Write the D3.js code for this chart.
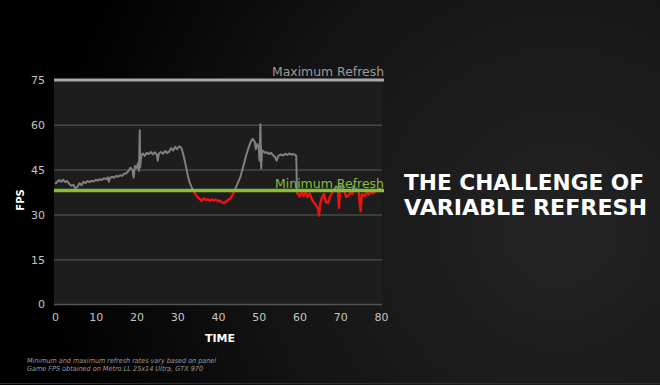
<!DOCTYPE html>
<html><head><meta charset="utf-8">
<script src="https://cdn.jsdelivr.net/npm/d3@7"></script>
<style>html,body{margin:0;padding:0;background:#000;}svg{display:block;}</style>
</head><body>
<script>
const time = [0,0.5,1,1.5,2,2.5,3,3.5,4,4.5,5,5.5,6,6.5,7,7.5,8,8.5,9,9.5,10,10.5,11,11.5,12,12.5,13,13.2,13.5,14,14.5,15,15.5,16,16.5,17,17.5,18,18.5,19,19.3,19.6,20,20.4,20.6,20.8,20.9,21.2,21.6,22,22.5,23,23.5,24,24.5,25,25.2,25.5,26,26.5,27,27.5,28,28.5,29,29.5,30,30.5,31,31.5,32,32.5,33,33.5,34,34.5,35,35.5,36,36.5,37,37.5,38,38.5,39,39.5,40,40.5,41,41.5,42,42.5,43,43.5,44,44.5,45,45.5,46,46.5,47,47.5,48,48.5,49,49.3,49.6,50,50.2,50.4,50.6,50.8,51.2,51.6,52,52.5,53,53.5,54,54.4,54.8,55.5,56,56.5,57,57.5,58,58.5,59,59.2,59.4,59.7,60,60.5,61,61.5,62,62.5,63,63.5,64,64.5,64.8,65.1,65.5,66,66.5,67,67.5,68,68.5,69,69.4,69.7,70,70.5,71,71.5,72,72.5,73,73.2,73.5,74,74.5,75,75.3,76,76.5,77,77.5,78,78.5,79,79.5,80];
const fps = [40.3,40.8,41.5,40.9,41.6,40.8,41.2,40.2,39.6,39.9,38.8,39.2,40.4,39.8,40.9,40.5,41.2,40.8,41.3,41.0,41.6,41.3,41.8,41.5,42.1,41.8,42.4,40.9,42.2,42.6,42.3,42.9,42.6,43.1,42.9,43.6,43.8,44.5,45.6,44.9,42.3,46.2,45.5,47.2,44.6,58.2,45.8,49.8,50.4,49.6,50.6,50.2,50.9,50.1,50.8,49.9,48.0,50.4,50.9,50.3,51.2,50.6,51.0,52.2,51.4,52.6,51.8,52.8,52.3,50.0,47.0,43.6,40.8,39.2,37.8,36.6,35.8,35.2,34.5,35.4,34.9,35.1,34.6,35.0,34.7,34.9,34.4,34.6,34.0,33.8,34.3,34.9,35.3,36.4,37.8,39.4,41.0,42.6,45.0,47.6,50.2,52.3,54.2,55.3,54.4,51.8,53.6,52.4,48.0,60.2,45.4,51.5,51.0,50.6,50.8,50.2,50.6,49.8,49.2,48.0,49.6,50.1,49.7,50.3,49.9,50.4,50.0,50.2,49.9,49.6,37.0,36.8,36.0,37.4,36.2,37.6,35.8,37.0,35.2,34.0,33.2,32.0,29.6,33.6,35.6,36.8,34.2,33.8,36.0,37.2,38.2,39.4,39.0,32.2,39.6,39.2,37.4,35.8,36.4,37.2,36.8,39.5,37.8,38.6,37.4,31.0,36.8,36.2,37.4,36.6,37.8,37.0,37.6,38.0,38.6,38.2];
const maxRefresh = 75;
const minRefresh = 38;
const yTicks = [0,15,30,45,60,75];
const xTicks = [0,10,20,30,40,50,60,70,80];
const titleLines = ["THE CHALLENGE OF","VARIABLE REFRESH"];
const notes = ["Minimum and maximum refresh rates vary based on panel","Game FPS obtained on Metro:LL 25x14 Ultra, GTX 970"];

const W = 660, H = 385;
const svg = d3.select("body").append("svg").attr("width",W).attr("height",H);
const defs = svg.append("defs");
const rg = defs.append("radialGradient").attr("id","bg").attr("gradientUnits","userSpaceOnUse")
  .attr("cx",560).attr("cy",230).attr("r",520);
rg.append("stop").attr("offset","0").attr("stop-color","#242424");
rg.append("stop").attr("offset","0.55").attr("stop-color","#141414");
rg.append("stop").attr("offset","1").attr("stop-color","#000");
svg.append("rect").attr("width",W).attr("height",H).attr("fill","url(#bg)");
svg.append("line").attr("x1",0).attr("x2",W).attr("y1",383.5).attr("y2",383.5).attr("stroke","#2e2e2e").attr("stroke-width",1);

const x = d3.scaleLinear().domain([0,80]).range([55,381]);
const y = d3.scaleLinear().domain([0,75]).range([304,80]);

svg.append("rect").attr("x",54).attr("y",y(75)).attr("width",382-54).attr("height",y(0)-y(75)).attr("fill","#1d1d1d");

const yAxis = d3.axisLeft(y).tickValues(yTicks).tickSize(-(382-54)).tickPadding(9);
const gy = svg.append("g").attr("transform","translate(54,0)").call(yAxis);
gy.select(".domain").remove();
gy.selectAll(".tick line").attr("stroke", d => d===0 ? "#555" : "#474747").attr("stroke-width",1.5)
  .attr("opacity", d => d===75 ? 0 : 1);
gy.selectAll(".tick text").attr("fill","#c4c4c4").attr("font-family","DejaVu Sans").attr("font-size",11).attr("dy","0.35em");

const xAxis = d3.axisBottom(x).tickValues(xTicks).tickSize(0).tickPadding(9);
const gx = svg.append("g").attr("transform","translate(0,304)").call(xAxis);
gx.select(".domain").remove();
gx.selectAll(".tick text").attr("fill","#c4c4c4").attr("font-family","DejaVu Sans").attr("font-size",11);

defs.append("clipPath").attr("id","above").append("rect").attr("x",0).attr("y",0).attr("width",W).attr("height",y(minRefresh));
defs.append("clipPath").attr("id","below").append("rect").attr("x",0).attr("y",y(minRefresh)).attr("width",W).attr("height",H);

const pts = time.map((t,i)=>[t,fps[i]]);
const line = d3.line().x(d=>x(d[0])).y(d=>y(d[1]));
svg.append("path").datum(pts).attr("d",line).attr("fill","none").attr("stroke","#808080").attr("stroke-width",2).attr("stroke-linejoin","round").attr("clip-path","url(#above)");
svg.append("path").datum(pts).attr("d",line).attr("fill","none").attr("stroke","#ee1111").attr("stroke-width",2.4).attr("stroke-linejoin","round").attr("clip-path","url(#below)");

svg.append("line").attr("x1",54).attr("x2",384).attr("y1",y(maxRefresh)).attr("y2",y(maxRefresh)).attr("stroke","#a9a9a9").attr("stroke-width",3);
svg.append("line").attr("x1",54).attr("x2",384).attr("y1",y(minRefresh)).attr("y2",y(minRefresh)).attr("stroke","#86bf35").attr("stroke-width",3.5);

svg.append("text").text("Maximum Refresh").attr("x",384).attr("y",y(maxRefresh)-4).attr("text-anchor","end")
  .attr("fill","#9a9a9a").attr("font-family","DejaVu Sans").attr("font-size",13).attr("textLength",112).attr("lengthAdjust","spacingAndGlyphs");
svg.append("text").text("Minimum Refresh").attr("x",384).attr("y",y(minRefresh)-3).attr("text-anchor","end")
  .attr("fill","#86bf35").attr("font-family","DejaVu Sans").attr("font-size",13).attr("textLength",109).attr("lengthAdjust","spacingAndGlyphs");

svg.append("text").text("FPS").attr("transform","translate(24,200) rotate(-90)").attr("text-anchor","middle")
  .attr("fill","#fff").attr("font-family","DejaVu Sans").attr("font-weight","bold").attr("font-size",10);
svg.append("text").text("TIME").attr("x",220).attr("y",342).attr("text-anchor","middle")
  .attr("fill","#fff").attr("font-family","DejaVu Sans").attr("font-weight","bold").attr("font-size",11);

const nl = [189,176];
notes.forEach((n,i)=>svg.append("text").text(n).attr("x",27).attr("y",363+i*7.5)
  .attr("fill","#9a9a9a").attr("font-family","DejaVu Sans").attr("font-style","italic").attr("font-size",7)
  .attr("textLength",nl[i]).attr("lengthAdjust","spacingAndGlyphs"));

const tl = [240,243];
titleLines.forEach((t,i)=>svg.append("text").text(t).attr("x",404).attr("y",190+i*24.5)
  .attr("fill","#fff").attr("font-family","DejaVu Sans").attr("font-weight","bold").attr("font-size",21.5)
  .attr("textLength",tl[i]).attr("lengthAdjust","spacingAndGlyphs"));
</script>
</body></html>
